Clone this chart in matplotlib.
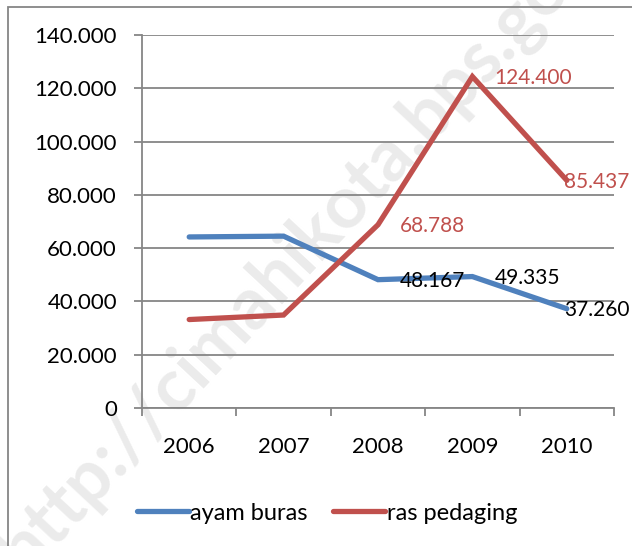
import matplotlib.pyplot as plt
from matplotlib.patches import Rectangle
from matplotlib.ticker import FuncFormatter

years = ['2006', '2007', '2008', '2009', '2010']
ayam_buras = [64200, 64500, 48167, 49335, 37260]
ras_pedaging = [33200, 34900, 68788, 124400, 85437]
label_buras = ['', '', '48.167', '49.335', '37.260']
label_ras = ['', '', '68.788', '124.400', '85.437']

blue = '#4F81BD'
red = '#C0504D'
grey = '#868686'

plt.rcParams['font.family'] = ['Lato', 'DejaVu Sans']

fig = plt.figure(figsize=(6.32, 5.46), dpi=100)
ax = fig.add_axes([142 / 632, 1 - 408 / 546, 472 / 632, 373 / 546])
ax.set_zorder(2)

# chart area border (only left/top visible in the crop)
fig.patches.append(Rectangle((8 / 632, -0.2), 1.2, 1 - 7 / 546 + 0.2,
                             transform=fig.transFigure, fill=False,
                             edgecolor=grey, linewidth=1.3, zorder=0))

# watermark, behind the plot
fig.text(0.49, 0.56, 'http://cimahikota.bps.go.id', rotation=47,
         fontsize=52, fontweight='bold', color='#ebebeb',
         ha='center', va='center', zorder=-1)

x = [i + 0.5 for i in range(len(years))]
ax.plot(x, ayam_buras, color=blue, linewidth=3.8, solid_capstyle='round',
        solid_joinstyle='miter', label='ayam buras', zorder=3)
ax.plot(x, ras_pedaging, color=red, linewidth=3.8, solid_capstyle='round',
        solid_joinstyle='miter', label='ras pedaging', zorder=3)

for i, (xi, v, t) in enumerate(zip(x, ayam_buras, label_buras)):
    if t:
        dx = 16 if i < 4 else -2
        ax.annotate(t, (xi, v), xytext=(dx, -1), textcoords='offset points',
                    ha='left', va='center', fontsize=15, color='black',
                    annotation_clip=False, zorder=4)
for i, (xi, v, t) in enumerate(zip(x, ras_pedaging, label_ras)):
    if t:
        dx = 16 if i < 4 else -2
        ax.annotate(t, (xi, v), xytext=(dx, -1), textcoords='offset points',
                    ha='left', va='center', fontsize=15, color=red,
                    annotation_clip=False, zorder=4)

ax.set_xlim(0, 5)
ax.set_ylim(0, 140000)
ax.set_yticks(range(0, 140001, 20000))
ax.yaxis.set_major_formatter(FuncFormatter(
    lambda v, p: '0' if v == 0 else f'{int(v):,}'.replace(',', '.')))
ax.set_xticks(range(6))
ax.set_xticklabels([])
ax.set_xticks(x, minor=True)
ax.set_xticklabels(years, minor=True)
ax.tick_params(axis='x', which='minor', length=0, pad=21, labelsize=16)
ax.tick_params(axis='x', which='major', length=6, width=1.3, color=grey)
ax.tick_params(axis='y', length=6, width=1.3, color=grey, pad=12, labelsize=16)

ax.grid(axis='y', color=grey, linewidth=1.3)
ax.set_axisbelow(True)
for s in ['top', 'right']:
    ax.spines[s].set_visible(False)
for s in ['left', 'bottom']:
    ax.spines[s].set_color(grey)
    ax.spines[s].set_linewidth(1.3)
ax.patch.set_alpha(0)

ax.legend(loc='center', bbox_to_anchor=(327 / 632, 1 - 513 / 546),
          bbox_transform=fig.transFigure, ncol=2, frameon=False,
          fontsize=17, handlelength=2.2, handletextpad=0.05,
          columnspacing=1.1)

fig.savefig('out.png', dpi=100)
